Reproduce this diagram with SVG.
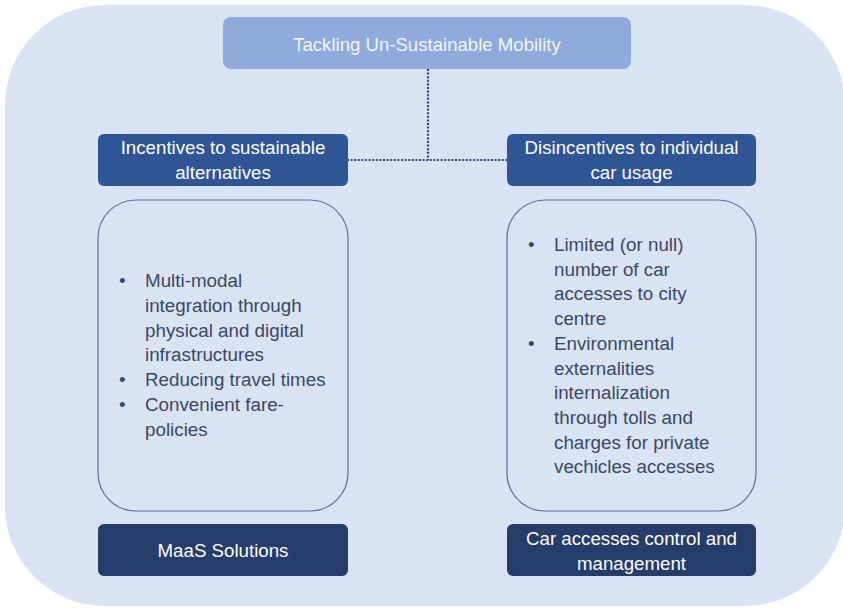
<svg xmlns="http://www.w3.org/2000/svg" width="843" height="608" viewBox="0 0 843 608">
  <style>
    .hdr { fill: #2f5597; }
    .bot { fill: #263c6a; }
    .wt { font-family: "Liberation Sans", Arial, sans-serif; font-size: 18.7px; fill: #ffffff; text-anchor: middle; }
    .top { font-family: "Liberation Sans", Arial, sans-serif; font-size: 18.6px; fill: #f4f6fb; text-anchor: middle; }
    .frame { fill: none; stroke: #5e7199; stroke-width: 1.2; }
    .body { font-family: "Liberation Sans", Arial, sans-serif; font-size: 18.8px; fill: #3b4865; }
    .conn { fill: none; stroke: #2f4475; stroke-width: 2.2; stroke-dasharray: 2 1.6; }
  </style>
  <rect width="843" height="608" fill="#ffffff"/>
  <rect id="background" x="5" y="5" width="840" height="601" rx="100" ry="100" fill="#dae3f3"/>

  <g id="connectors">
    <line class="conn" x1="428" y1="69" x2="428" y2="160"/>
    <line class="conn" x1="347" y1="160" x2="507" y2="160"/>
  </g>

  <g id="root">
    <rect x="223" y="17" width="408" height="52" rx="8" fill="#8faadc"/>
    <text class="top" x="427" y="51">Tackling Un-Sustainable Mobility</text>
  </g>

  <g id="incentives">
    <rect class="hdr" x="98" y="134" width="250" height="52" rx="6"/>
    <text class="wt" x="223" y="154">Incentives to sustainable</text>
    <text class="wt" x="223" y="179">alternatives</text>
  </g>

  <g id="disincentives">
    <rect class="hdr" x="507" y="134" width="249" height="52" rx="6"/>
    <text class="wt" x="631.5" y="154">Disincentives to individual</text>
    <text class="wt" x="631.5" y="179">car usage</text>
  </g>

  <g id="incentives-list">
    <rect class="frame" x="98" y="200" width="250" height="311" rx="38"/>
    <text class="body" x="119" y="287">•</text>
    <text class="body" x="145" y="287">Multi-modal</text>
    <text class="body" x="145" y="312">integration through</text>
    <text class="body" x="145" y="336.5">physical and digital</text>
    <text class="body" x="145" y="361">infrastructures</text>
    <text class="body" x="119" y="386">•</text>
    <text class="body" x="145" y="386">Reducing travel times</text>
    <text class="body" x="119" y="411">•</text>
    <text class="body" x="145" y="411">Convenient fare-</text>
    <text class="body" x="145" y="436">policies</text>
  </g>

  <g id="disincentives-list">
    <rect class="frame" x="507" y="200" width="249" height="311" rx="38"/>
    <text class="body" x="528" y="251">•</text>
    <text class="body" x="554" y="251">Limited (or null)</text>
    <text class="body" x="554" y="275.7">number of car</text>
    <text class="body" x="554" y="300.4">accesses to city</text>
    <text class="body" x="554" y="325.1">centre</text>
    <text class="body" x="528" y="349.8">•</text>
    <text class="body" x="554" y="349.8">Environmental</text>
    <text class="body" x="554" y="374.5">externalities</text>
    <text class="body" x="554" y="399.2">internalization</text>
    <text class="body" x="554" y="423.9">through tolls and</text>
    <text class="body" x="554" y="448.6">charges for private</text>
    <text class="body" x="554" y="473.3">vechicles accesses</text>
  </g>

  <g id="maas">
    <rect class="bot" x="98" y="524" width="250" height="52" rx="6"/>
    <text class="wt" x="223" y="557">MaaS Solutions</text>
  </g>

  <g id="car-control">
    <rect class="bot" x="507" y="524" width="249" height="52" rx="6"/>
    <text class="wt" x="631.5" y="545">Car accesses control and</text>
    <text class="wt" x="631.5" y="570">management</text>
  </g>
</svg>
